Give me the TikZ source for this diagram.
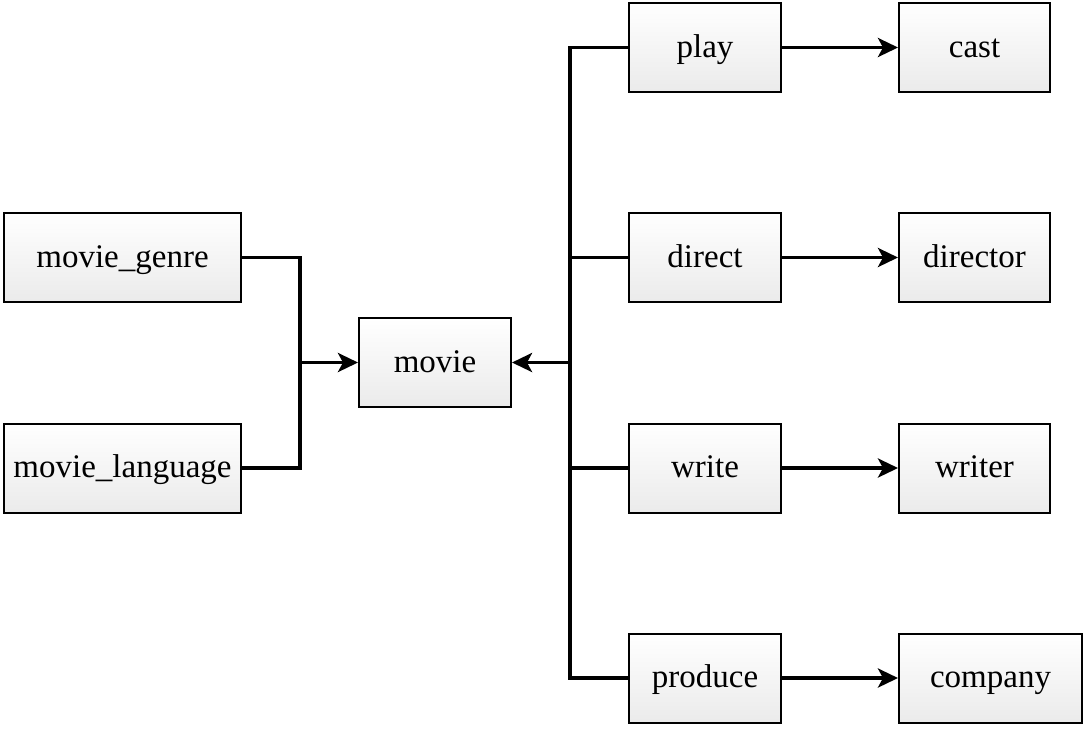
\documentclass[tikz,border=0pt]{standalone}
\usepackage{fontspec}
\setmainfont{Liberation Serif}
\usetikzlibrary{arrows.meta}

\tikzset{
	table/.style={draw, line width=1pt, top color=white, bottom color=black!8,
		minimum width=118.5pt, minimum height=44.5pt, inner sep=0pt,
		text height=13pt, text depth=3.5pt,
		font=\fontsize{16.5}{18}\selectfont},
	link/.style={line width=1.8pt},
	arr/.style={link, -{Stealth[length=10pt,width=9.5pt,inset=2.5pt]}}
}

\begin{document}
\begin{tikzpicture}[x=0.5pt, y=-0.5pt]
		\useasboundingbox (0,0) rectangle (1085,730);

		% Left side
		\node[table] (genre) at (122.5,257.5) {movie\_genre};
		\node[table] (language) at (122.5,468) {movie\_language};
		\node[table, minimum width=76pt] (movie) at (435,362.5) {movie};

		% Relation tables
		\foreach \name/\y in {play/47.5, direct/257.5, write/468, produce/678}
			\node[table, minimum width=76pt] (\name) at (705,\y) {\name};

		% Entity tables
		\node[table, minimum width=75.5pt] (cast) at (974.5,47.5) {cast};
		\node[table, minimum width=75.5pt] (director) at (974.5,257.5) {director};
		\node[table, minimum width=75.5pt] (writer) at (974.5,468) {writer};
		\node[table, minimum width=91.5pt] (company) at (990.5,678) {company};

		% Joins
		\coordinate (lbus) at (300,362.5);
		\coordinate (rbus) at (570,362.5);
		\draw[link] (genre.east) -| (lbus) |- (language.east);
		\draw[arr] (lbus) -- (movie.west);
		\draw[link] (play.west) -| (rbus) |- (produce.west);
		\draw[link] (rbus |- direct.west) -- (direct.west);
		\draw[link] (rbus |- write.west) -- (write.west);
		\draw[arr] (rbus) -- (movie.east);

		% Foreign keys
		\foreach \a/\b in {play/cast, direct/director, write/writer, produce/company}
			\draw[arr] (\a.east) -- (\b.west);
	\end{tikzpicture}
\end{document}
